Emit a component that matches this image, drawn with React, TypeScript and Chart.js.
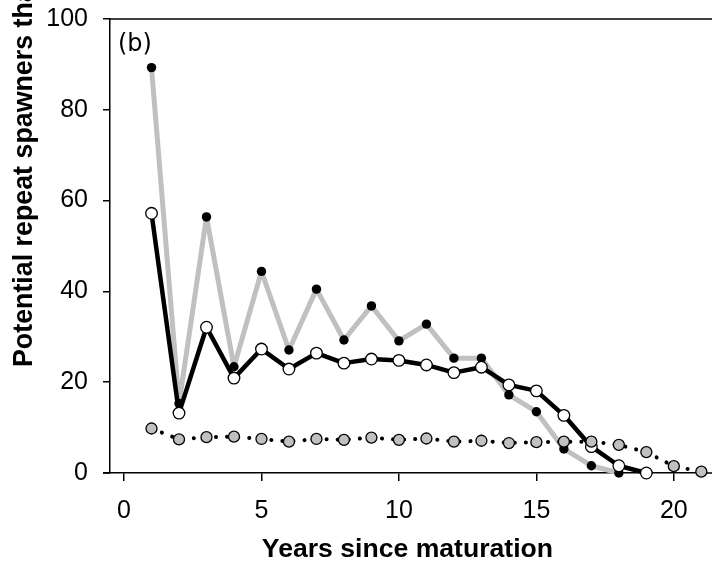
import React, { useEffect, useRef } from "react";
import { Chart, registerables } from "chart.js";

Chart.register(...registerables);

// ---- data ----
const yearsA = [1, 2, 3, 4, 5, 6, 7, 8, 9, 10, 11, 12, 13, 14, 15, 16, 17, 18];
const seriesA = [89.3, 15.3, 56.4, 23.4, 44.4, 27.1, 40.5, 29.3, 36.8, 29.1, 32.8, 25.3, 25.3, 17.2, 13.5, 5.3, 1.6, 0];

const yearsB = [1, 2, 3, 4, 5, 6, 7, 8, 9, 10, 11, 12, 13, 14, 15, 16, 17, 18, 19];
const seriesB = [57.2, 13.2, 32.1, 20.9, 27.3, 22.9, 26.4, 24.2, 25.1, 24.8, 23.8, 22.1, 23.3, 19.4, 18.1, 12.7, 5.8, 1.6, 0];

const yearsC = [1, 2, 3, 4, 5, 6, 7, 8, 9, 10, 11, 12, 13, 14, 15, 16, 17, 18, 19, 20, 21];
const seriesC = [9.8, 7.4, 7.9, 8.0, 7.5, 6.9, 7.5, 7.3, 7.8, 7.3, 7.6, 6.9, 7.1, 6.6, 6.8, 6.9, 6.9, 6.2, 4.6, 1.5, 0.3];

const xTicks = [0, 5, 10, 15, 20];
const yTicks = [0, 20, 40, 60, 80, 100];

const xTitle = "Years since maturation";
const yTitle = "Potential repeat spawners that survive (%)";
const panelLabel = "(b)";

const FONT = "'Liberation Sans', Arial, sans-serif";
const GRAY = "#c0c0c0";

const toPoints = (xs: number[], ys: number[]) => xs.map((x, i) => ({ x, y: ys[i] }));

const decorPlugin = {
  id: "decor",
  beforeDatasetsDraw(chart: any) {
    const { ctx, chartArea } = chart;
    ctx.save();
    ctx.strokeStyle = "#000";
    ctx.lineWidth = 1.5;
    ctx.beginPath();
    ctx.moveTo(chartArea.left - 1, chartArea.top);
    ctx.lineTo(chart.width, chartArea.top);
    ctx.moveTo(chartArea.left - 7, chartArea.bottom);
    ctx.lineTo(chartArea.left, chartArea.bottom);
    ctx.moveTo(chartArea.right - 1, chartArea.bottom);
    ctx.lineTo(chart.width, chartArea.bottom);
    ctx.stroke();
    ctx.restore();
  },
  afterDraw(chart: any) {
    const { ctx, chartArea } = chart;
    ctx.save();
    ctx.fillStyle = "#000";
    ctx.font = `bold 26.8px ${FONT}`;
    ctx.textAlign = "left";
    ctx.textBaseline = "alphabetic";
    ctx.translate(31.5, 367);
    ctx.rotate(-Math.PI / 2);
    ctx.fillText(yTitle, 0, 0);
    ctx.restore();

    ctx.save();
    ctx.fillStyle = "#000";
    ctx.font = `24px 'DejaVu Sans', sans-serif`;
    ctx.textAlign = "left";
    ctx.textBaseline = "alphabetic";
    ctx.fillText(panelLabel, chartArea.left + 8, chartArea.top + 32);
    ctx.restore();
  },
};

export default function App() {
  const canvasRef = useRef<HTMLCanvasElement | null>(null);

  useEffect(() => {
    const canvas = canvasRef.current;
    if (!canvas) return;
    const chart = new Chart(canvas, {
      type: "line",
      data: {
        datasets: [
          {
            label: "C",
            data: toPoints(yearsC, seriesC),
            order: 0,
            borderColor: "#000",
            borderWidth: 4,
            borderDash: [0.1, 11],
            borderCapStyle: "round",
            pointRadius: 5.5,
            pointBackgroundColor: GRAY,
            pointBorderColor: "#000",
            pointBorderWidth: 1.3,
            clip: false,
            tension: 0,
          },
          {
            label: "B",
            data: toPoints(yearsB, seriesB),
            order: 1,
            borderColor: "#000",
            borderWidth: 4.5,
            borderJoinStyle: "round",
            pointRadius: 5.8,
            pointBackgroundColor: "#fff",
            pointBorderColor: "#000",
            pointBorderWidth: 1.3,
            clip: false,
            tension: 0,
          },
          {
            label: "A",
            data: toPoints(yearsA, seriesA),
            order: 2,
            borderColor: GRAY,
            borderWidth: 5,
            borderJoinStyle: "round",
            pointRadius: 4.7,
            pointBackgroundColor: "#000",
            pointBorderColor: "#000",
            pointBorderWidth: 0,
            clip: false,
            tension: 0,
          },
        ],
      } as any,
      options: {
        responsive: false,
        animation: false,
        devicePixelRatio: 1,
        events: [],
        layout: { padding: { top: 19, left: 0, right: 0, bottom: 0 } },
        plugins: {
          legend: { display: false },
          tooltip: { enabled: false },
        },
        scales: {
          x: {
            type: "linear",
            min: -0.51,
            max: 21.13,
            afterBuildTicks: (s: any) => {
              s.ticks = xTicks.map((v) => ({ value: v }));
            },
            afterFit: (s: any) => {
              s.height = 93;
              s.paddingLeft = 0;
              s.paddingRight = 0;
              s.paddingTop = 0;
              s.paddingBottom = 0;
            },
            grid: {
              display: true,
              drawOnChartArea: false,
              drawTicks: true,
              tickLength: 8,
              color: "#000",
              lineWidth: 1.5,
            },
            border: { display: true, color: "#000", width: 1.5 },
            ticks: {
              color: "#000",
              font: { family: FONT, size: 25 },
              padding: 15,
              maxRotation: 0,
              autoSkip: false,
            },
            title: {
              display: true,
              text: xTitle,
              color: "#000",
              font: { family: FONT, size: 26.6, weight: "bold", lineHeight: 1.2 },
              padding: 0,
            },
          },
          y: {
            type: "linear",
            min: 0,
            max: 100,
            afterBuildTicks: (s: any) => {
              s.ticks = yTicks.map((v) => ({ value: v }));
            },
            afterFit: (s: any) => {
              s.width = 110;
              s.paddingLeft = 0;
              s.paddingRight = 0;
              s.paddingTop = 0;
              s.paddingBottom = 0;
            },
            grid: {
              display: true,
              drawOnChartArea: false,
              drawTicks: true,
              tickLength: 7,
              color: "#000",
              lineWidth: 1.5,
            },
            border: { display: true, color: "#000", width: 1.5 },
            ticks: {
              color: "#000",
              font: { family: FONT, size: 25 },
              padding: 15,
              autoSkip: false,
            },
          },
        },
      } as any,
      plugins: [decorPlugin],
    });
    return () => chart.destroy();
  }, []);

  return (
    <div style={{ position: "fixed", left: 0, top: 0, width: 712, height: 566, background: "#fff" }}>
      <canvas ref={canvasRef} width={712} height={566} style={{ display: "block", width: 712, height: 566 }} />
    </div>
  );
}
